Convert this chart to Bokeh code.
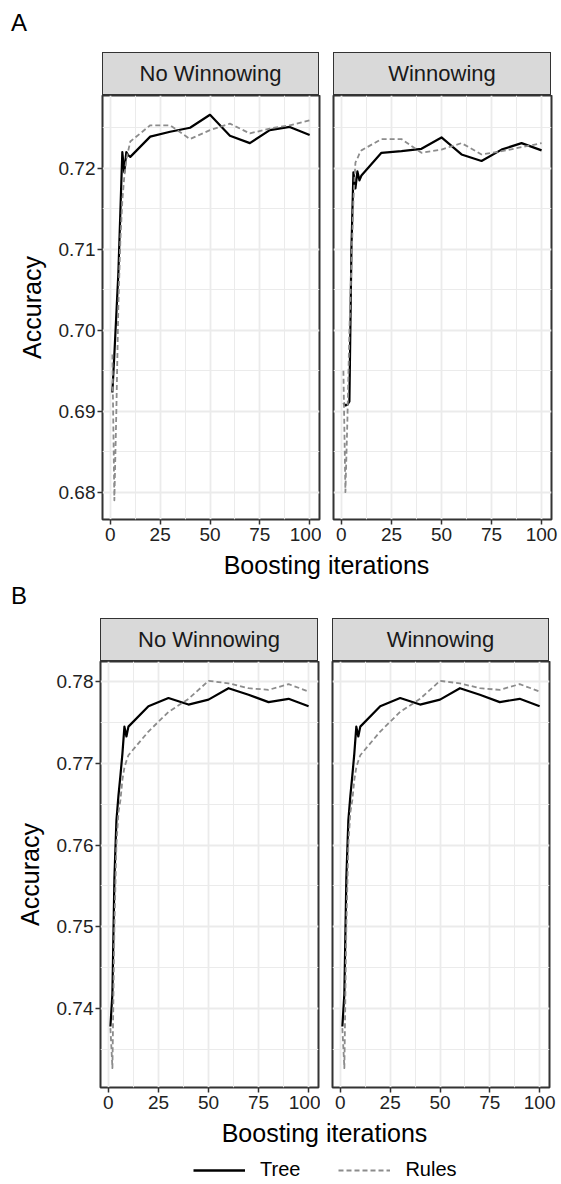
import numpy as np
from bokeh.plotting import figure
from bokeh.models import (Range1d, FixedTicker, Div, Spacer, Legend, LegendItem,
                          PrintfTickFormatter)
from bokeh.layouts import column, row
from bokeh.embed import file_html
from bokeh.resources import INLINE

# ---------------- data ----------------
iterations = [1, 2, 3, 4, 5, 6, 7, 8, 9, 10, 20, 30, 40, 50, 60, 70, 80, 90, 100]

a_tree_nw = [0.6923, 0.6970, 0.7020, 0.7070, 0.7145, 0.7220, 0.7195, 0.7220, 0.7216, 0.7214,
             0.7239, 0.7245, 0.7250, 0.7266, 0.7240, 0.7231, 0.7247, 0.7251, 0.7241]
a_rules_nw = [0.6970, 0.6790, 0.6900, 0.7030, 0.7110, 0.7160, 0.7190, 0.7210, 0.7222, 0.7233,
              0.7253, 0.7253, 0.7236, 0.7247, 0.7255, 0.7243, 0.7249, 0.7253, 0.7259]
a_tree_w = [0.6910, 0.6907, 0.6908, 0.6912, 0.7100, 0.7195, 0.7175, 0.7196, 0.7185, 0.7191,
            0.7219, 0.7221, 0.7224, 0.7238, 0.7217, 0.7209, 0.7223, 0.7231, 0.7222]
a_rules_w = [0.6950, 0.6800, 0.6890, 0.7000, 0.7080, 0.7160, 0.7207, 0.7212, 0.7218, 0.7222,
             0.7236, 0.7236, 0.7219, 0.7223, 0.7231, 0.7217, 0.7221, 0.7226, 0.7231]

b_tree_nw = [0.7378, 0.7418, 0.7560, 0.7630, 0.7660, 0.7685, 0.7712, 0.7745, 0.7733, 0.7745,
             0.7770, 0.7780, 0.7772, 0.7778, 0.7792, 0.7784, 0.7775, 0.7779, 0.7770]
b_rules_nw = [0.7376, 0.7327, 0.7500, 0.7600, 0.7640, 0.7655, 0.7680, 0.7695, 0.7703, 0.7710,
              0.7739, 0.7763, 0.7779, 0.7801, 0.7798, 0.7792, 0.7790, 0.7797, 0.7788]
b_tree_w = [0.7378, 0.7418, 0.7560, 0.7630, 0.7660, 0.7685, 0.7712, 0.7745, 0.7733, 0.7745,
            0.7770, 0.7780, 0.7772, 0.7778, 0.7792, 0.7784, 0.7775, 0.7779, 0.7770]
b_rules_w = [0.7376, 0.7327, 0.7500, 0.7600, 0.7640, 0.7655, 0.7680, 0.7695, 0.7703, 0.7710,
             0.7739, 0.7763, 0.7779, 0.7801, 0.7798, 0.7792, 0.7790, 0.7797, 0.7788]

panel_labels = ["No Winnowing", "Winnowing"]
series_labels = ["Tree", "Rules"]
x_ticks = [0, 25, 50, 75, 100]
x_minor = [12.5, 37.5, 62.5, 87.5]
a_y_ticks = [0.68, 0.69, 0.70, 0.71, 0.72]
a_y_minor = [0.685, 0.695, 0.705, 0.715, 0.725]
b_y_ticks = [0.74, 0.75, 0.76, 0.77, 0.78]
b_y_minor = [0.735, 0.745, 0.755, 0.765, 0.775]

FONT = "Liberation Sans"
DARK = "#333333"
GRID = "#EBEBEB"
RULES_COLOR = "#8C8C8C"
BOTTOM = 32


def expand(vals):
    lo, hi = min(vals), max(vals)
    pad = 0.05 * (hi - lo)
    return lo - pad, hi + pad


x_lo, x_hi = expand(iterations)


def make_panel(tree, rules, y_lo, y_hi, yt, ym, left, frame_w, right, frame_h, show_y):
    p = figure(width=left + frame_w + right, height=frame_h + BOTTOM,
               x_range=Range1d(x_lo, x_hi), y_range=Range1d(y_lo, y_hi),
               output_backend="svg", toolbar_location=None, title=None,
               min_border_left=left, min_border_right=right,
               min_border_top=0, min_border_bottom=BOTTOM)
    p.background_fill_color = "white"
    p.border_fill_color = "white"
    p.outline_line_color = DARK
    p.outline_line_width = 2

    xt = FixedTicker(ticks=x_ticks, minor_ticks=x_minor)
    ytk = FixedTicker(ticks=yt, minor_ticks=ym)
    p.xaxis.ticker = xt
    p.yaxis.ticker = ytk
    p.xgrid.ticker = xt
    p.ygrid.ticker = ytk
    for g in (p.xgrid, p.ygrid):
        g.grid_line_color = GRID
        g.grid_line_width = 1.8
        g.minor_grid_line_color = GRID
        g.minor_grid_line_width = 1.0

    p.xaxis.formatter = PrintfTickFormatter(format="%d")
    p.yaxis.formatter = PrintfTickFormatter(format="%.2f")
    for ax in (p.xaxis, p.yaxis):
        ax.axis_line_color = None
        ax.major_tick_line_color = DARK
        ax.major_tick_line_width = 1.5
        ax.major_tick_out = 5
        ax.major_tick_in = 0
        ax.minor_tick_line_color = None
        ax.major_label_text_font = FONT
        ax.major_label_text_font_size = "19px"
        ax.major_label_text_color = "#222222"
    p.xaxis.major_label_standoff = 3
    p.yaxis.major_label_standoff = 2

    if show_y:
        p.yaxis.axis_label = "Accuracy"
        p.yaxis.axis_label_text_font = FONT
        p.yaxis.axis_label_text_font_size = "25px"
        p.yaxis.axis_label_text_font_style = "normal"
        p.yaxis.axis_label_text_color = "black"
        p.yaxis.axis_label_standoff = 10
    else:
        p.yaxis.visible = False

    p.line(iterations, tree, line_color="black", line_width=2.2, line_join="round")
    p.line(iterations, rules, line_color=RULES_COLOR, line_width=1.8,
           line_dash="5 3", line_join="round")
    return p


def strip(label, w, h=43):
    html = ("<div style=\"box-sizing:border-box;width:%dpx;height:%dpx;background:#D9D9D9;"
            "border:1.5px solid #333333;display:flex;align-items:center;justify-content:center;"
            "font-family:'%s';font-size:22px;color:#1A1A1A;\">%s</div>") % (w, h, FONT, label)
    return Div(text=html, width=w, height=h, margin=0)


def letter(txt, h, pad_top):
    html = ("<div style=\"font-family:'%s';font-size:24px;line-height:24px;color:black;"
            "padding:%dpx 0 0 11px;\">%s</div>") % (FONT, pad_top, txt)
    return Div(text=html, width=561, height=h, margin=0)


def xtitle(left, w):
    html = ("<div style=\"margin-left:%dpx;width:%dpx;text-align:center;font-family:'%s';"
            "font-size:25px;line-height:28px;color:black;\">Boosting iterations</div>") % (left, w, FONT)
    return Div(text=html, width=561, height=30, margin=0)


a_lo, a_hi = expand(a_tree_nw + a_rules_nw + a_tree_w + a_rules_w)
b_lo, b_hi = expand(b_tree_nw + b_rules_nw + b_tree_w + b_rules_w)

# ---- Panel A ----
pa1 = make_panel(a_tree_nw, a_rules_nw, a_lo, a_hi, a_y_ticks, a_y_minor, 102, 217, 2, 424, True)
pa2 = make_panel(a_tree_w, a_rules_w, a_lo, a_hi, a_y_ticks, a_y_minor, 12, 218, 10, 424, False)
strips_a = row(Spacer(width=102, height=43), strip(panel_labels[0], 217), Spacer(width=14, height=43),
               strip(panel_labels[1], 218), Spacer(width=10, height=43), spacing=0)

# ---- Panel B ----
pb1 = make_panel(b_tree_nw, b_rules_nw, b_lo, b_hi, b_y_ticks, b_y_minor, 100, 218, 2, 426, True)
pb2 = make_panel(b_tree_w, b_rules_w, b_lo, b_hi, b_y_ticks, b_y_minor, 12, 217, 12, 426, False)
strips_b = row(Spacer(width=100, height=43), strip(panel_labels[0], 218), Spacer(width=14, height=43),
               strip(panel_labels[1], 217), Spacer(width=12, height=43), spacing=0)

# ---- Legend ----
leg = figure(width=561, height=35, x_range=Range1d(0, 1), y_range=Range1d(0, 1),
             output_backend="svg", toolbar_location=None, title=None,
             x_axis_location=None, y_axis_location=None, min_border=0)
leg.grid.visible = False
leg.outline_line_color = None
leg.background_fill_color = "white"
leg.border_fill_color = "white"
empty = np.full(2, np.nan)
r1 = leg.line(empty, empty, line_color="black", line_width=2.5)
r2 = leg.line(empty, empty, line_color=RULES_COLOR, line_width=2, line_dash="5 3")
legend = Legend(items=[LegendItem(label=series_labels[0], renderers=[r1]),
                       LegendItem(label=series_labels[1], renderers=[r2])],
                orientation="horizontal", location=(193, 3),
                glyph_width=52, glyph_height=20, label_standoff=15, spacing=38,
                padding=0, margin=0, border_line_color=None, background_fill_alpha=0,
                label_text_font=FONT, label_text_font_size="20px", label_text_color="black")
leg.add_layout(legend)

layout = column(
    letter("A", 52, 11),
    strips_a,
    row(pa1, pa2, spacing=0),
    xtitle(102, 449),
    letter("B", 37, 3),
    strips_b,
    row(pb1, pb2, spacing=0),
    xtitle(100, 449),
    leg,
    spacing=0,
)

open("out.html", "w").write(file_html(layout, INLINE))
